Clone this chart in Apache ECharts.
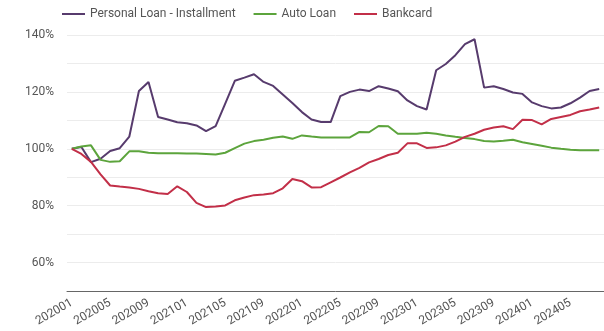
<!DOCTYPE html>
<html>
<head>
<meta charset="utf-8">
<script src="https://cdn.jsdelivr.net/npm/echarts@6/dist/echarts.min.js"></script>
<style>
  html, body { margin: 0; padding: 0; background: #fff; }
  #chart { width: 604px; height: 331px; }
</style>
</head>
<body>
<div id="chart"></div>
<script>
// months shown on the x axis
const months = [
  '202001','202002','202003','202004','202005','202006','202007','202008','202009','202010','202011','202012',
  '202101','202102','202103','202104','202105','202106','202107','202108','202109','202110','202111','202112',
  '202201','202202','202203','202204','202205','202206','202207','202208','202209','202210','202211','202212',
  '202301','202302','202303','202304','202305','202306','202307','202308','202309','202310','202311','202312',
  '202401','202402','202403','202404','202405','202406','202407','202408'
];

// index values, % of 202001
const personalLoan = [
  100, 100.6, 95.3, 96.5, 99.2, 100.2, 104.3, 120.3, 123.5, 111.2, 110.3, 109.3,
  109.0, 108.2, 106.2, 108.0, 115.9, 123.9, 125.0, 126.2, 123.5, 122.1, 119.1, 116.1,
  112.9, 110.3, 109.4, 109.4, 118.5, 120.0, 120.8, 120.3, 122.0, 121.2, 120.2, 117.0,
  115.0, 113.8, 127.6, 129.8, 132.9, 136.8, 138.5, 121.5, 122.0, 121.0, 119.8, 119.3,
  116.3, 115.0, 114.2, 114.5, 116.0, 118.0, 120.3, 121.0
];
const autoLoan = [
  100, 100.8, 101.2, 96.1, 95.4, 95.6, 99.1, 99.1, 98.6, 98.4, 98.4, 98.4,
  98.3, 98.3, 98.2, 98.0, 98.6, 100.2, 101.8, 102.7, 103.2, 103.9, 104.3, 103.5,
  104.7, 104.3, 104.0, 104.0, 104.0, 104.0, 105.9, 105.8, 108.0, 107.9, 105.3, 105.3,
  105.3, 105.6, 105.3, 104.7, 104.2, 103.8, 103.4, 102.7, 102.6, 102.8, 103.2, 102.3,
  101.7, 101.1, 100.4, 100.0, 99.7, 99.5, 99.5, 99.5
];
const bankcard = [
  100, 98.2, 95.4, 91.0, 87.1, 86.7, 86.4, 85.9, 85.1, 84.4, 84.1, 86.8,
  84.8, 81.0, 79.5, 79.7, 80.1, 81.9, 82.9, 83.7, 83.9, 84.4, 86.1, 89.4,
  88.6, 86.4, 86.5, 88.2, 89.9, 91.7, 93.3, 95.2, 96.4, 97.8, 98.6, 101.9,
  101.9, 100.3, 100.5, 101.2, 102.5, 104.2, 105.3, 106.7, 107.5, 107.9, 106.9, 110.2,
  110.1, 108.6, 110.5, 111.2, 111.9, 113.2, 113.8, 114.5
];

const seriesNames = ['Personal Loan - Installment', 'Auto Loan', 'Bankcard'];
const seriesColors = ['#573b6d', '#5ca43c', '#c22f48'];
const seriesData = [personalLoan, autoLoan, bankcard];

const chart = echarts.init(document.getElementById('chart'));

const option = {
  animation: false,
  color: seriesColors,
  textStyle: { fontFamily: 'Roboto, sans-serif' },
  legend: {
    top: 3,
    left: 57,
    icon: 'rect',
    itemWidth: 23,
    itemHeight: 2,
    itemGap: 18,
    textStyle: { color: '#555', fontSize: 12 },
    data: seriesNames
  },
  grid: {
    left: 67,
    right: -6,
    top: 35,
    bottom: 40
  },
  xAxis: {
    type: 'category',
    data: months,
    boundaryGap: true,
    axisLine: { lineStyle: { color: '#666', width: 1 } },
    axisTick: { show: false },
    axisLabel: {
      interval: 3,
      rotate: 30,
      color: '#555',
      fontSize: 12,
      margin: 11
    }
  },
  yAxis: {
    type: 'value',
    min: 50,
    max: 140,
    interval: 10,
    axisLine: { show: false },
    axisTick: { show: false },
    splitLine: { lineStyle: { color: '#ececec', width: 1 } },
    axisLabel: {
      color: '#555',
      fontSize: 12,
      margin: 13,
      formatter: v => (v % 20 === 0 ? v + '%' : '')
    }
  },
  series: seriesNames.map((name, i) => ({
    name: name,
    type: 'line',
    data: seriesData[i],
    showSymbol: false,
    symbol: 'none',
    lineStyle: { width: 2, color: seriesColors[i] },
    itemStyle: { color: seriesColors[i] }
  }))
};

chart.setOption(option);
</script>
</body>
</html>
